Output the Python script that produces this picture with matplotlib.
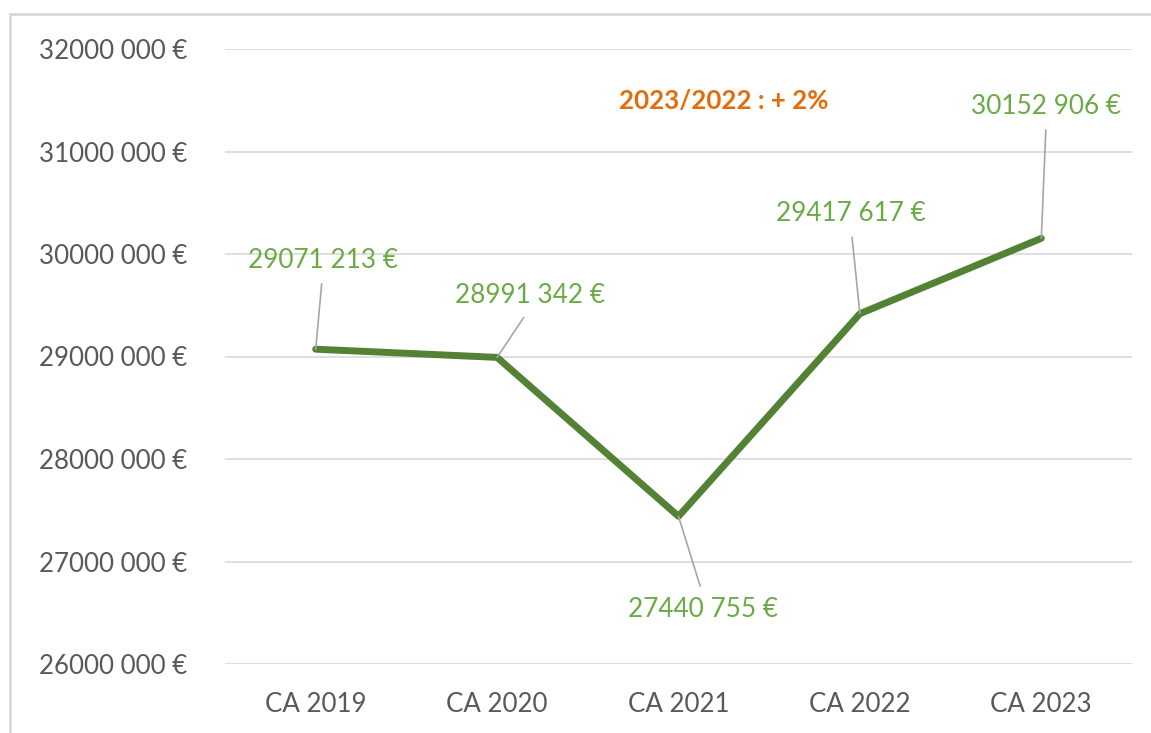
import matplotlib
matplotlib.use("Agg")
import matplotlib.pyplot as plt
from matplotlib.patches import Rectangle
from matplotlib.ticker import FuncFormatter

# ---------------------------------- data ----------------------------------
categories = ["CA 2019", "CA 2020", "CA 2021", "CA 2022", "CA 2023"]
revenue = [29071213, 28991342, 27440755, 29417617, 30152906]
value_labels = ["29071 213 €", "28991 342 €", "27440 755 €", "29417 617 €", "30152 906 €"]
# offsets of each data label from its point (pixels)
label_offsets = [(7, 89), (33, 62), (25, -93), (-9, 100), (5, 132)]
note_text = "2023/2022 : + 2%"

plt.rcParams['font.family'] = ['Lato', 'DejaVu Sans']

fig = plt.figure(figsize=(11.51, 7.33), dpi=100)
ax = fig.add_axes([225/1151, 1-664/733, (1132-225)/1151, (664-49)/733])

x = list(range(len(categories)))
ax.plot(x, revenue, color='#548235', linewidth=5, solid_capstyle='round', zorder=3)

# data labels with leader lines
for i in range(len(x)):
    dx, dy = label_offsets[i]
    rel = (0.5, 0) if dy > 0 else (0.5, 1)
    ax.annotate(value_labels[i], xy=(x[i], revenue[i]), xytext=(dx, dy),
                textcoords='offset pixels', ha='center', va='center',
                fontsize=18.8, color='#6AAB45',
                arrowprops=dict(arrowstyle='-', color='#A6A6A6', lw=1.2,
                                relpos=rel, shrinkA=6, shrinkB=0))

ax.text(2.25, 31490000, note_text, ha='center', va='center',
        fontsize=18.6, fontweight='bold', color='#E46C0A')

ax.set_xlim(-0.5, 4.5)
ax.set_ylim(26000000, 32000000)
ax.set_yticks(range(26000000, 32000001, 1000000))
ax.yaxis.set_major_formatter(FuncFormatter(lambda v, p: "%d 000 €" % (v // 1000)))
ax.set_xticks(x)
ax.set_xticklabels(categories)

ax.grid(axis='y', color='#D9D9D9', linewidth=1.2, zorder=0)
ax.set_axisbelow(True)
for s in ax.spines.values():
    s.set_visible(False)
ax.tick_params(axis='both', length=0, labelsize=18.6, colors='#595959')
ax.tick_params(axis='y', pad=27)
ax.tick_params(axis='x', pad=20)

# chart border (partially cropped in the reference)
fig.patches.append(Rectangle((10/1151, -0.05), 1.2, 1-14/733+0.05,
                             transform=fig.transFigure, fill=False,
                             edgecolor='#D9D9D9', linewidth=2))

fig.savefig("out.png", dpi=100, facecolor='white')
